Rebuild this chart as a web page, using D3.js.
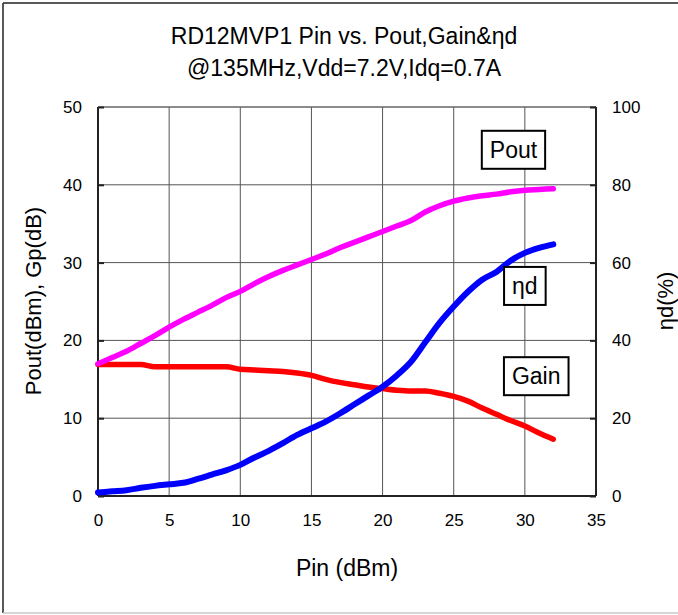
<!DOCTYPE html>
<html><head><meta charset="utf-8">
<script src="https://cdn.jsdelivr.net/npm/d3@7"></script>
<style>body{margin:0;background:#fff;}svg{display:block;font-family:"Liberation Sans",Arial,sans-serif;}</style>
</head><body>
<svg id="c" width="678" height="615"></svg>
<script>
const pin = [0,1,2,3,4,5,6,7,8,9,10,11,12,13,14,15,16,17,18,19,20,21,22,23,24,25,26,27,28,29,30,31,32];
const pout = [17.0,17.8,18.6,19.6,20.6,21.7,22.7,23.6,24.5,25.5,26.3,27.3,28.2,29.0,29.7,30.4,31.1,31.9,32.6,33.3,34.0,34.7,35.4,36.5,37.3,37.9,38.3,38.6,38.8,39.1,39.3,39.4,39.5];
const gain = [16.9,16.9,16.9,16.9,16.6,16.6,16.6,16.6,16.6,16.6,16.3,16.2,16.1,16.0,15.8,15.5,15.0,14.6,14.3,14.0,13.8,13.6,13.5,13.5,13.2,12.8,12.2,11.3,10.5,9.7,9.0,8.1,7.3];
const eff = [0.9,1.2,1.5,2.1,2.6,3.0,3.4,4.4,5.5,6.6,8.0,9.9,11.6,13.6,15.7,17.4,19.1,21.2,23.5,25.8,28.1,31.0,34.5,39.5,44.5,48.7,52.5,55.6,57.6,60.5,62.5,63.8,64.7];
const xTicks = [0,5,10,15,20,25,30,35];
const yLeftTicks = [0,10,20,30,40,50];
const yRightTicks = [0,20,40,60,80,100];
const titleLines = ["RD12MVP1 Pin vs. Pout,Gain&ηd","@135MHz,Vdd=7.2V,Idq=0.7A"];
const labels = [{text:"Pout",x:29.2,y:44.5},{text:"ηd",x:30.0,y:27.0},{text:"Gain",x:30.8,y:15.4}];

const svg = d3.select("#c");
const L=98,R=596,T=107,B=496;
const x = d3.scaleLinear().domain([0,35]).range([L,R]);
const yL = d3.scaleLinear().domain([0,50]).range([B,T]);
const yR = d3.scaleLinear().domain([0,100]).range([B,T]);

// outer frame
svg.append("line").attr("x1",3).attr("x2",3).attr("y1",3).attr("y2",613).attr("stroke","#222").attr("stroke-width",1.5);
svg.append("line").attr("x1",3).attr("x2",678).attr("y1",3).attr("y2",3).attr("stroke","#222").attr("stroke-width",1.5);
svg.append("line").attr("x1",3).attr("x2",678).attr("y1",613).attr("y2",613).attr("stroke","#c8c8c8").attr("stroke-width",1.5);

// title
svg.append("g").selectAll("text").data(titleLines).join("text")
  .attr("x",344).attr("y",(d,i)=>44+i*32).attr("text-anchor","middle")
  .attr("font-size",23).attr("fill","#000").text(d=>d);

// grid
const g = svg.append("g");
g.selectAll(".vg").data(xTicks.slice(1,-1)).join("line")
  .attr("x1",d=>x(d)).attr("x2",d=>x(d)).attr("y1",T).attr("y2",B)
  .attr("stroke","#555").attr("stroke-width",1);
g.selectAll(".hg").data(yLeftTicks.slice(1,-1)).join("line")
  .attr("x1",L).attr("x2",R).attr("y1",d=>yL(d)).attr("y2",d=>yL(d))
  .attr("stroke","#555").attr("stroke-width",1);
g.append("line").attr("x1",L).attr("x2",R).attr("y1",T).attr("y2",T).attr("stroke","#666").attr("stroke-width",1.5);

// axes
const axL = svg.append("g").attr("transform",`translate(${L},0)`)
  .call(d3.axisLeft(yL).tickValues(yLeftTicks).tickSize(-6).tickPadding(16));
const axR = svg.append("g").attr("transform",`translate(${R},0)`)
  .call(d3.axisRight(yR).tickValues(yRightTicks).tickSize(-6).tickPadding(16));
const axB = svg.append("g").attr("transform",`translate(0,${B})`)
  .call(d3.axisBottom(x).tickValues(xTicks).tickSize(0).tickPadding(18));
[axL,axR,axB].forEach(a=>{
  a.select(".domain").attr("stroke","#222").attr("stroke-width",2);
  a.selectAll(".tick line").attr("stroke","#222").attr("stroke-width",2);
  a.selectAll("text").attr("font-size",17).attr("fill","#000").attr("font-family","Liberation Sans, Arial, sans-serif");
});
axB.select(".domain").attr("d",`M${L},0H${R}`);
axL.select(".domain").attr("d",`M0,${T}V${B}`);
axR.select(".domain").attr("d",`M0,${T}V${B}`);
axR.selectAll("text").attr("text-anchor","start");

// axis titles
svg.append("text").attr("transform","translate(41,301) rotate(-90)").attr("text-anchor","middle")
  .attr("font-size",22).text("Pout(dBm), Gp(dB)");
svg.append("text").attr("transform","translate(673,301) rotate(-90)").attr("text-anchor","middle")
  .attr("font-size",22).text("ηd(%)");
svg.append("text").attr("x",347).attr("y",576).attr("text-anchor","middle")
  .attr("font-size",23).text("Pin (dBm)");

// lines
const mk = (arr,ys)=>d3.line().x((d,i)=>x(pin[i])).y(d=>ys(d)).curve(d3.curveMonotoneX)(arr);
svg.append("path").attr("d",mk(gain,yL)).attr("fill","none").attr("stroke","#ff0000").attr("stroke-width",5.5).attr("stroke-linecap","round");
svg.append("path").attr("d",mk(pout,yL)).attr("fill","none").attr("stroke","#ff00ff").attr("stroke-width",5.5).attr("stroke-linecap","round");
svg.append("path").attr("d",mk(eff,yR)).attr("fill","none").attr("stroke","#0000ff").attr("stroke-width",6).attr("stroke-linecap","round");

// labels
labels.forEach(lb=>{
  const cx = x(lb.x), cy = yL(lb.y);
  const grp = svg.append("g");
  const rect = grp.append("rect");
  const t = grp.append("text").attr("x",cx).attr("y",cy+8).attr("text-anchor","middle")
    .attr("font-size",23).text(lb.text);
  const w = t.node().getComputedTextLength();
  rect.attr("x",cx-w/2-8).attr("y",cy-19).attr("width",w+16).attr("height",38)
    .attr("fill","#fff").attr("stroke","#000").attr("stroke-width",2);
});
</script>
</body></html>
